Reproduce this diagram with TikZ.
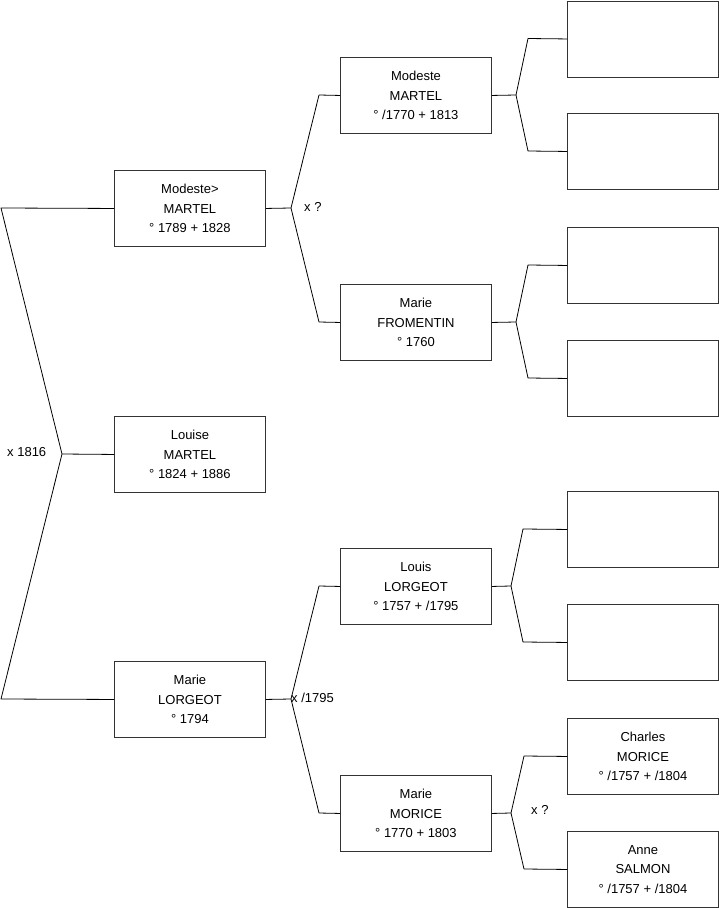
\documentclass[tikz,border=0pt]{standalone}
\usepackage{fontspec}
\setmainfont{Liberation Sans}
\begin{document}
\begin{tikzpicture}[x=1pt,y=-1pt,
 person/.style={draw=black!80, line width=0.9pt, minimum width=151pt, minimum height=76pt, inner sep=0pt, align=center, font=\fontsize{13}{19.5}\selectfont, anchor=north west},
 link/.style={line width=0.8pt, line join=round},
 lbl/.style={font=\fontsize{13}{15}\selectfont, inner sep=0pt, anchor=west}]
\useasboundingbox (0,0) rectangle (719,908);
% generation 1
\node[person] (p1) at (114,170) {Modeste>\\MARTEL\\° 1789 + 1828};
\node[person] (p2) at (114,416) {Louise\\MARTEL\\° 1824 + 1886};
\node[person] (p3) at (114,661) {Marie\\LORGEOT\\° 1794};
% generation 2
\node[person] (g1) at (340,57) {Modeste\\MARTEL\\° /1770 + 1813};
\node[person] (g2) at (340,284) {Marie\\FROMENTIN\\° 1760};
\node[person] (g3) at (340,548) {Louis\\LORGEOT\\° 1757 + /1795};
\node[person] (g4) at (340,775) {Marie\\MORICE\\° 1770 + 1803};
% generation 3
\node[person] (h1) at (567,0.5) {};
\node[person] (h2) at (567,113) {};
\node[person] (h3) at (567,227) {};
\node[person] (h4) at (567,340) {};
\node[person] (h5) at (567,491) {};
\node[person] (h6) at (567,604) {};
\node[person] (h7) at (567,718) {Charles\\MORICE\\° /1757 + /1804};
\node[person] (h8) at (567,831) {Anne\\SALMON\\° /1757 + /1804};
% junction coordinates
\coordinate (a1) at (1,208);
\coordinate (j0) at (62,454);
\coordinate (a3) at (1,699);
\coordinate (j1) at (291,208);
\coordinate (b1) at (319,95);
\coordinate (b2) at (319,322);
\coordinate (j2) at (291,699);
\coordinate (b3) at (319,586);
\coordinate (b4) at (319,813);
\coordinate (k1) at (516,95);
\coordinate (c1) at (528,38.5);
\coordinate (c2) at (528,151);
\coordinate (k2) at (516,322);
\coordinate (c3) at (528,265);
\coordinate (c4) at (528,378);
\coordinate (k3) at (511,586);
\coordinate (c5) at (523,529);
\coordinate (c6) at (523,642);
\coordinate (k4) at (511,813);
\coordinate (c7) at (524,756);
\coordinate (c8) at (524,869);
% connectors
\draw[link] (p1.west) -- (a1) -- (j0) -- (a3) -- (p3.west);
\draw[link] (j0) -- (p2.west);
\draw[link] (p1.east) -- (j1);
\draw[link] (g1.west) -- (b1) -- (j1) -- (b2) -- (g2.west);
\draw[link] (p3.east) -- (j2);
\draw[link] (g3.west) -- (b3) -- (j2) -- (b4) -- (g4.west);
\draw[link] (g1.east) -- (k1);
\draw[link] (h1.west) -- (c1) -- (k1) -- (c2) -- (h2.west);
\draw[link] (g2.east) -- (k2);
\draw[link] (h3.west) -- (c3) -- (k2) -- (c4) -- (h4.west);
\draw[link] (g3.east) -- (k3);
\draw[link] (h5.west) -- (c5) -- (k3) -- (c6) -- (h6.west);
\draw[link] (g4.east) -- (k4);
\draw[link] (h7.west) -- (c7) -- (k4) -- (c8) -- (h8.west);
% marriage labels
\node[lbl] (m0) at (7,452) {x 1816};
\node[lbl] (m1) at (304,207) {x ?};
\node[lbl] (m2) at (291,698) {x /1795};
\node[lbl] (m3) at (531,810) {x ?};
\end{tikzpicture}
\end{document}
